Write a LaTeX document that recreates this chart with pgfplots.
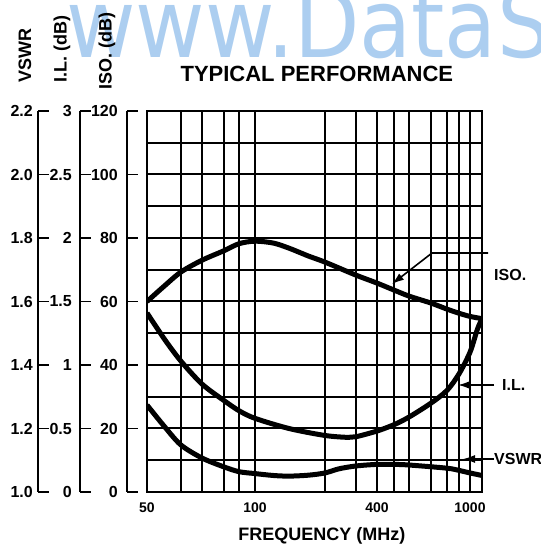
\documentclass[border=0pt]{standalone}
\usepackage{pgfplots}
\usepackage{pgfplotstable}
\pgfplotsset{compat=1.18}
\usepackage{fontspec}
\setmainfont{Liberation Sans}
\newfontfamily\wmfont{DejaVu Sans}
\usetikzlibrary{arrows.meta}
\definecolor{wmblue}{RGB}{172,206,240}

% ISO. (dB)
\pgfplotstableread{
f iso
50 60
55 65
60 69.3
70 73
80 76
90 78.2
100 79
120 78.4
140 76.8
170 74.3
200 72.4
300 68.3
400 65.8
500 63.6
600 61.7
700 59.5
800 57.6
900 56.3
1000 55.3
1100 54.6
}\isodata
% I.L. (dB)
\pgfplotstableread{
f il
50 1.41
55 1.20
60 1.03
70 0.85
80 0.72
90 0.64
100 0.58
140 0.50
200 0.445
270 0.43
300 0.435
400 0.48
500 0.53
600 0.59
700 0.70
800 0.80
900 0.93
1000 1.10
1060 1.28
1100 1.365
}\ildata
% VSWR
\pgfplotstableread{
f vswr
50 1.274
55 1.205
60 1.148
70 1.107
80 1.079
90 1.064
100 1.058
120 1.052
140 1.050
170 1.053
200 1.060
240 1.073
300 1.082
400 1.087
500 1.087
600 1.085
800 1.075
900 1.068
1000 1.060
1100 1.052
}\vswrdata

% piecewise-logarithmic frequency scale of the original graph paper
\def\fseg#1#2#3#4{\pgfmathparse{#2+(\flog-(#1))*((#4)-(#2))/((#3)-(#1))}}
\def\fpos#1{%
  \begingroup
  \pgfmathfloatparsenumber{#1}\pgfmathfloattofixed{\pgfmathresult}\let\fin\pgfmathresult
  \pgflibraryfpuifactive{\pgfkeys{/pgf/fpu=false}}{}%
  \pgfmathparse{log10(\fin)}\let\flog\pgfmathresult
  \ifdim\flog pt<1.778151pt \fseg{1.698970}{0}{1.778151}{34}%
  \else\ifdim\flog pt<1.845098pt \fseg{1.778151}{34}{1.845098}{55}%
  \else\ifdim\flog pt<1.903090pt \fseg{1.845098}{55}{1.903090}{77}%
  \else\ifdim\flog pt<1.954243pt \fseg{1.903090}{77}{1.954243}{92}%
  \else\ifdim\flog pt<2pt \fseg{1.954243}{92}{2}{108}%
  \else\ifdim\flog pt<2.301030pt \fseg{2}{108}{2.301030}{178}%
  \else\ifdim\flog pt<2.477121pt \fseg{2.301030}{178}{2.477121}{209}%
  \else\ifdim\flog pt<2.602060pt \fseg{2.477121}{209}{2.602060}{230}%
  \else\ifdim\flog pt<2.698970pt \fseg{2.602060}{230}{2.698970}{247}%
  \else\ifdim\flog pt<2.778151pt \fseg{2.698970}{247}{2.778151}{262}%
  \else\ifdim\flog pt<2.845098pt \fseg{2.778151}{262}{2.845098}{284}%
  \else\ifdim\flog pt<2.903090pt \fseg{2.845098}{284}{2.903090}{300}%
  \else\ifdim\flog pt<2.954243pt \fseg{2.903090}{300}{2.954243}{312}%
  \else\ifdim\flog pt<3pt \fseg{2.954243}{312}{3}{323}%
  \else \fseg{3}{323}{3.041393}{335}%
  \fi\fi\fi\fi\fi\fi\fi\fi\fi\fi\fi\fi\fi\fi
  \xdef\fposres{\pgfmathresult}%
  \endgroup
  \let\pgfmathresult\fposres}

\pgfplotsset{
  leftax/.style={scale only axis, width=10pt, height=381pt, xmin=0, xmax=1,
    hide x axis, axis y line*=left, y axis line style={-, line width=1.6pt},
    tick align=inside, major tick length=11pt, major tick style={black, line width=1.6pt},
    tick label style={font=\fontsize{16}{16}\selectfont\bfseries},
    /pgf/number format/assume math mode=true},
  curve/.style={black, line width=5pt, smooth, tension=0.5, no markers}
}

\begin{document}
\begin{tikzpicture}
\path[use as bounding box] (0,0) rectangle (541pt,552pt);
\node[anchor=base west, inner sep=0pt, text=wmblue, font=\wmfont\fontsize{85}{85}\selectfont, yscale=1.12] at (66pt,494pt) {www.DataS};

% horizontal rulings of the graph paper, every 10 dB of the ISO scale
\foreach \k in {1,...,11} {
  \fill[black] (147pt,{59pt+\k*31.75pt}) rectangle (482pt,{61pt+\k*31.75pt});
}

% main axis on the ISO scale; I.L. (x40) and VSWR ((v-1)x100) share its grid
\begin{axis}[at={(147pt,60pt)}, anchor=south west, scale only axis, width=335pt, height=381pt,
  xmin=50, xmax=1100, x coord trafo/.code={\fpos{#1}},
  ymin=0, ymax=120,
  xtick={50,60,70,80,90,100,200,300,400,500,600,700,800,900,1000},
  xticklabels={50,,,,,100,,,400,,,,,,1000},
  ytick={0,10,20,30,40,50,60,70,80,90,100,110,120}, yticklabel=\empty,
  major tick length=0pt, xmajorgrids=true, ymajorgrids=true,
  major grid style={black, line width=1.5pt},
  axis line style={black, line width=2pt},
  xticklabel style={font=\fontsize{14}{14}\selectfont\bfseries, inner sep=0pt, yshift=-11pt},
  /pgf/number format/assume math mode=true,
  xlabel={FREQUENCY (MHz)},
  xlabel style={font=\fontsize{18}{18}\selectfont\bfseries, at={(axis description cs:0.522,0)}, anchor=center, yshift=-44pt},
  title={TYPICAL PERFORMANCE},
  title style={font=\fontsize{22}{22}\selectfont\bfseries, at={(axis description cs:0.507,1)}, anchor=center, yshift=31pt}]
\addplot[curve] table[x=f, y=iso] {\isodata};
\addplot[curve] table[x=f, y expr=40*\thisrow{il}] {\ildata};
\addplot[curve] table[x=f, y expr=100*(\thisrow{vswr}-1)] {\vswrdata};
\end{axis}

% left scales
\begin{axis}[leftax, at={(38pt,60pt)}, anchor=south west, ymin=1, ymax=2.2,
  ytick={1.0,1.2,1.4,1.6,1.8,2.0,2.2},
  yticklabel style={anchor=east, inner sep=0pt, xshift=-5pt, /pgf/number format/fixed, /pgf/number format/fixed zerofill, /pgf/number format/precision=1}]
\end{axis}
\begin{axis}[leftax, at={(80pt,60pt)}, anchor=south west, ymin=0, ymax=3,
  ytick={0,0.5,1,1.5,2,2.5,3},
  yticklabel style={anchor=east, inner sep=0pt, xshift=-8pt}]
\end{axis}
\begin{axis}[leftax, at={(127pt,60pt)}, anchor=south west, ymin=0, ymax=120,
  ytick={0,20,40,60,80,100,120},
  yticklabel style={anchor=east, inner sep=0pt, xshift=-9pt}]
\end{axis}

\node[rotate=90, anchor=west, inner sep=0pt, font=\fontsize{18}{18}\selectfont\bfseries] at (25pt,469pt) {VSWR};
\node[rotate=90, anchor=west, inner sep=0pt, font=\fontsize{18}{18}\selectfont\bfseries] at (62pt,469pt) {I.L. (dB)};
\node[rotate=90, anchor=west, inner sep=0pt, font=\fontsize{18}{18}\selectfont\bfseries] at (107pt,462pt) {ISO. (dB)};

% callouts
\draw[line width=1.6pt, -{Latex[length=12pt,width=8pt]}] (488pt,299pt) -- (432pt,299pt) -- (392pt,268pt);
\node[anchor=west, inner sep=0pt, font=\fontsize{16}{16}\selectfont\bfseries] at (494pt,277pt) {ISO.};
\draw[line width=1.6pt, -{Latex[length=12pt,width=8pt]}] (494pt,167pt) -- (458pt,167pt);
\node[anchor=west, inner sep=0pt, font=\fontsize{16}{16}\selectfont\bfseries] at (502pt,167pt) {I.L.};
\draw[line width=1.6pt, -{Latex[length=12pt,width=8pt]}] (494pt,93pt) -- (463pt,93pt);
\node[anchor=west, inner sep=0pt, font=\fontsize{16}{16}\selectfont\bfseries] at (494pt,93pt) {VSWR};
\end{tikzpicture}
\end{document}
